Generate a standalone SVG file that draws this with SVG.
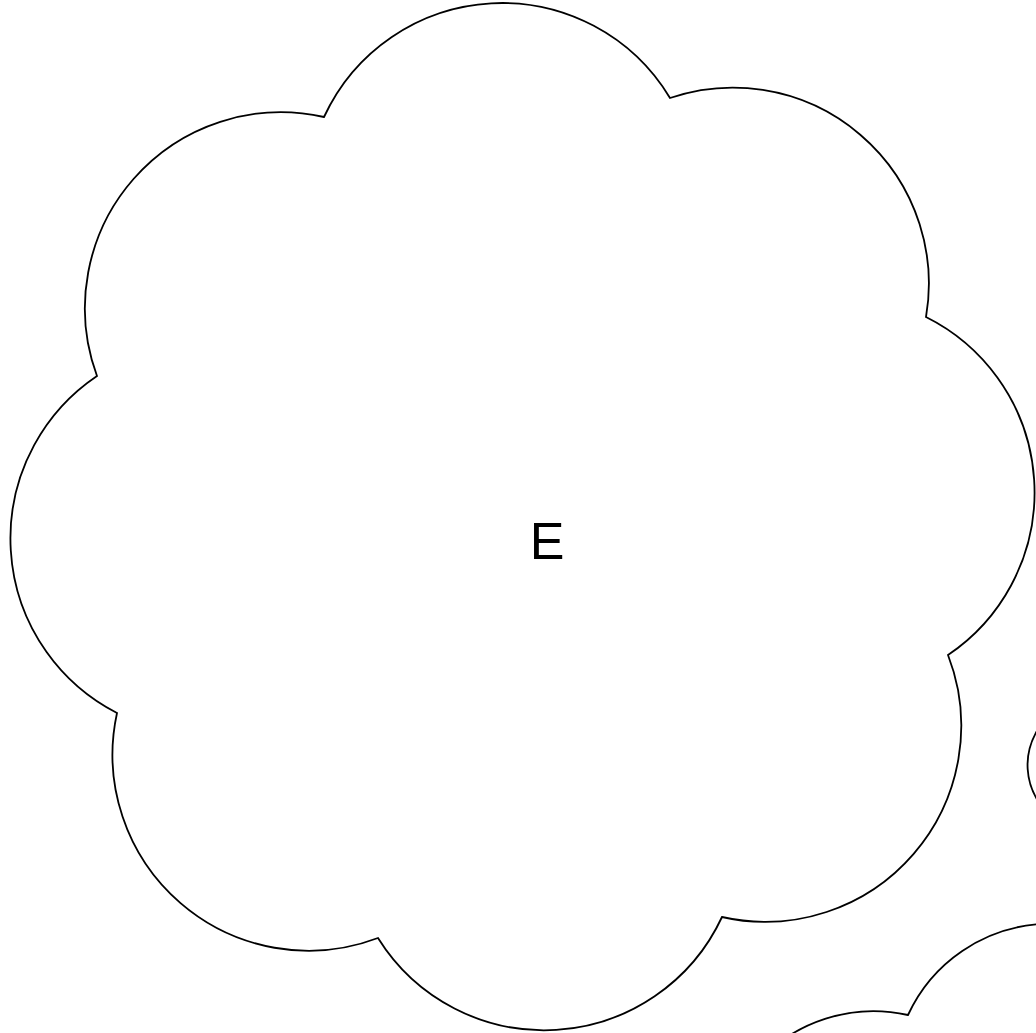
<svg xmlns="http://www.w3.org/2000/svg" width="1036" height="1033" viewBox="0 0 1036 1033">
<style>
.cloud{fill:#ffffff;stroke:#000000;stroke-width:1.8;stroke-linejoin:miter}
.lbl{font-family:"Liberation Sans",Arial,sans-serif;font-size:52px;fill:#000000}
</style>
<defs>
<path id="cloudShape" d="M324,117 A196,196 0 0 1 670,98 A196,196 0 0 1 926,317 A196,196 0 0 1 948,655 A196,196 0 0 1 722,917 A196,196 0 0 1 378,938 A196,196 0 0 1 117,713 A196,196 0 0 1 97,376 A196,196 0 0 1 324,117 Z"/>
</defs>
<rect width="1036" height="1033" fill="#ffffff"/>
<g id="node-small-right">
<use href="#cloudShape" class="cloud" transform="translate(1024,582) scale(0.34)" style="stroke-width:5.3"/>
</g>
<g id="node-bottom-right">
<use href="#cloudShape" class="cloud" transform="translate(648.8,921.4) scale(0.8)" style="stroke-width:2.25"/>
</g>
<g id="node-E">
<use href="#cloudShape" class="cloud"/>
<text class="lbl" x="547" y="559" text-anchor="middle">E</text>
</g>
<g id="connectors"></g>
</svg>
